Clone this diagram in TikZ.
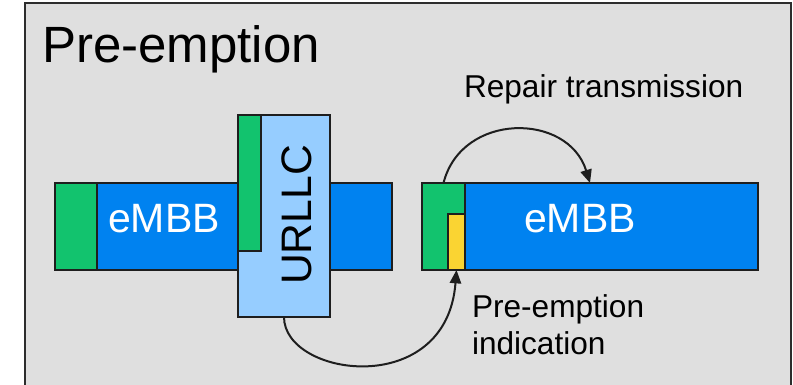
\documentclass[tikz,border=0pt]{standalone}
\usepackage{fontspec}
\setmainfont{Liberation Sans}
\usetikzlibrary{arrows.meta,calc}
\definecolor{bggray}{RGB}{223,223,223}
\definecolor{framegray}{RGB}{45,45,45}
\definecolor{edge}{RGB}{30,30,30}
\definecolor{embbblue}{RGB}{0,130,240}
\definecolor{grn}{RGB}{18,195,110}
\definecolor{lblue}{RGB}{150,205,255}
\definecolor{yel}{RGB}{250,212,50}
\begin{document}
\begin{tikzpicture}[x=0.75pt,y=-0.75pt,
  box/.style={draw=edge, line width=1.5pt, inner sep=0pt, outer sep=0pt, anchor=north west, rectangle},
  conn/.style={draw=edge, line width=1.5pt, -{Triangle[length=10pt,width=8.5pt]}},
  lbl/.style={inner sep=0pt, outer sep=0pt, text=black},
  embbtxt/.style={inner sep=0pt, text=white, font=\fontsize{30.75}{36}\selectfont}]
\useasboundingbox (0,0) rectangle (793,385);
\clip (0,0) rectangle (793,385);
\fill[white] (0,0) rectangle (793,385);
\draw[draw=framegray, fill=bggray, line width=1.5pt] (25,3) rectangle (791,400);

% title
\node[lbl, anchor=base west, font=\fontsize{38.25}{45}\selectfont] (title) at (42,63) {Pre-emption};

% left eMBB bar
\node[box, fill=embbblue, minimum width=252.75pt, minimum height=65.25pt] (lbar) at (55,183) {};
\node[box, fill=grn, minimum width=31.5pt, minimum height=65.25pt] (lgreen) at (55,183) {};
\node[embbtxt] (ltext) at (164,219) {eMBB};

% URLLC
\node[box, fill=lblue, minimum width=69pt, minimum height=151.5pt] (urllc) at (238,115) {};
\node[box, fill=grn, minimum width=17.25pt, minimum height=102pt] (ugreen) at (238,115) {};
\node[lbl, rotate=90, font=\fontsize{32}{38}\selectfont] (utext) at (296.5,215) {URLLC};

% right eMBB bar
\node[box, fill=embbblue, minimum width=252pt, minimum height=65.25pt] (rbar) at (422,183) {};
\node[box, fill=grn, minimum width=32.25pt, minimum height=65.25pt] (rgreen) at (422,183) {};
\node[box, fill=yel, minimum width=12.75pt, minimum height=42pt] (yelbox) at (448,214) {};
\node[embbtxt] (rtext) at (580,219) {eMBB};

% labels
\node[lbl, anchor=base west, font=\fontsize{23.7}{28}\selectfont] (repair) at (464,98) {Repair transmission};
\node[lbl, anchor=north west, align=left, font=\fontsize{23.7}{27.75}\selectfont] (pind) at (472,295) {Pre-emption\\indication};

% connectors
\draw[conn] (rgreen.north) .. controls ($(rgreen.north)+(18,-71)$) and ($(rbar.north)+(-22,-71)$) .. (rbar.north);
\draw[conn] (urllc.south) .. controls ($(urllc.south)+(0,60)$) and ($(yelbox.south)+(-10,130)$) .. (yelbox.south);
\end{tikzpicture}
\end{document}
